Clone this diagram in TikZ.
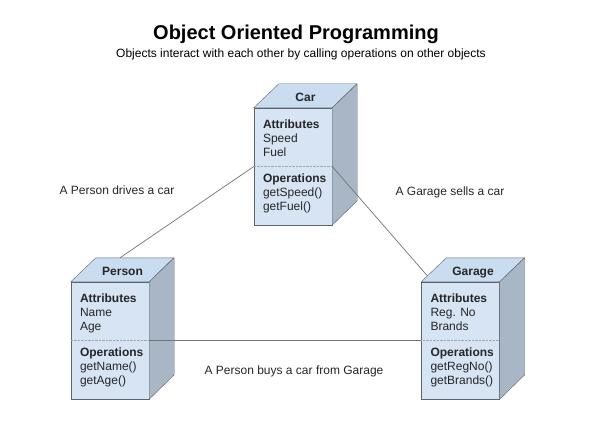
\documentclass[tikz,border=0pt]{standalone}
\usepackage{fontspec}
\setmainfont{Liberation Sans}
\usetikzlibrary{calc}

\definecolor{frontblue}{RGB}{214,228,244}
\definecolor{topblue}{RGB}{201,220,240}
\definecolor{sidegrey}{RGB}{168,182,198}
\definecolor{edgegrey}{RGB}{95,100,108}

\tikzset{
  objfront/.style={draw=edgegrey, fill=frontblue, minimum width=78pt, minimum height=117pt, inner sep=0pt},
  objtop/.style={draw=edgegrey, fill=topblue, line join=round},
  objside/.style={draw=edgegrey, fill=sidegrey, line join=round},
  objname/.style={anchor=base, font=\fontsize{12}{14}\selectfont\bfseries, text=black!85},
  members/.style={anchor=north west, align=left, inner sep=0pt, font=\fontsize{12}{14}\selectfont, text=black!85},
  divider/.style={densely dotted, gray!70},
  link/.style={gray!90!black, line width=0.7pt},
  caption/.style={anchor=base, font=\fontsize{12}{14}\selectfont, text=black!85}
}

\begin{document}
\begin{tikzpicture}[x=1pt,y=-1pt]
			\useasboundingbox (0,0) rectangle (600,433);
			% heading
			\node[anchor=base, font=\fontsize{20}{24}\selectfont\bfseries] (title) at (296,40) {Object Oriented Programming};
			\node[anchor=base, font=\fontsize{12}{14}\selectfont] (subtitle) at (301,58) {Objects interact with each other by calling operations on other objects};
			% car
			\node[objfront] (car) at (293,166.5) {};
			\draw[objtop] (car.north west) -- ++(25,-24) -- ++(78,0) -- (car.north east) -- cycle;
			\draw[objside] (car.north east) -- ++(25,-24) -- ++(0,117) -- (car.south east) -- cycle;
			\draw[divider] (car.west) -- (car.east);
			\node[objname] (car-name) at ($(car.north)+(12.5,-6.5)$) {Car};
			\node[members] (car-attr) at ($(car.north west)+(9,11.5)$) {\textbf{Attributes}\\Speed\\Fuel};
			\node[members] (car-ops) at ($(car.west)+(9,7)$) {\textbf{Operations}\\getSpeed()\\getFuel()};
			% person
			\node[objfront] (person) at (110,340.5) {};
			\draw[objtop] (person.north west) -- ++(25,-24) -- ++(78,0) -- (person.north east) -- cycle;
			\draw[objside] (person.north east) -- ++(25,-24) -- ++(0,117) -- (person.south east) -- cycle;
			\draw[divider] (person.west) -- (person.east);
			\node[objname] (person-name) at ($(person.north)+(12.5,-6.5)$) {Person};
			\node[members] (person-attr) at ($(person.north west)+(9,11.5)$) {\textbf{Attributes}\\Name\\Age};
			\node[members] (person-ops) at ($(person.west)+(9,7)$) {\textbf{Operations}\\getName()\\getAge()};
			% garage
			\node[objfront] (garage) at (460.5,340.5) {};
			\draw[objtop] (garage.north west) -- ++(25,-24) -- ++(78,0) -- (garage.north east) -- cycle;
			\draw[objside] (garage.north east) -- ++(25,-24) -- ++(0,117) -- (garage.south east) -- cycle;
			\draw[divider] (garage.west) -- (garage.east);
			\node[objname] (garage-name) at ($(garage.north)+(12.5,-6.5)$) {Garage};
			\node[members] (garage-attr) at ($(garage.north west)+(9,11.5)$) {\textbf{Attributes}\\Reg. No\\Brands};
			\node[members] (garage-ops) at ($(garage.west)+(9,7)$) {\textbf{Operations}\\getRegNo()\\getBrands()};
			% relations
			\coordinate (person-top) at ($(person.north)+(10,-24)$);
			\coordinate (garage-top) at ($(garage.north west)+(6,-6)$);
			\draw[link] (car.west) -- (person-top);
			\draw[link] (car.east) -- (garage-top);
			\draw[link] (person.east) -- (garage.west);
			\node[caption] (drives) at (117,194) {A Person drives a car};
			\node[caption] (sells) at (450,196) {A Garage sells a car};
			\node[caption] (buys) at (294,374) {A Person buys a car from Garage};
		\end{tikzpicture}
\end{document}
